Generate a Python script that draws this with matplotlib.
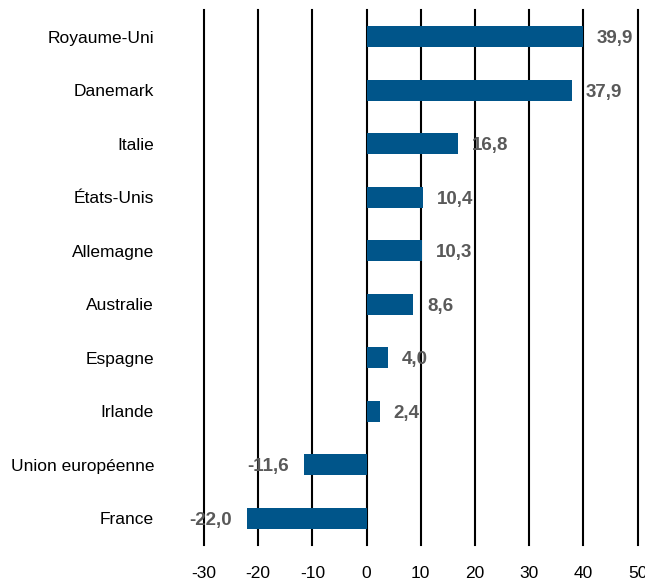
import matplotlib
matplotlib.use('Agg')
import matplotlib.pyplot as plt

plt.rcParams['font.family'] = ['Liberation Sans Narrow', 'Liberation Sans', 'DejaVu Sans']

countries = ['Royaume-Uni', 'Danemark', 'Italie', 'États-Unis', 'Allemagne',
             'Australie', 'Espagne', 'Irlande', 'Union européenne', 'France']
values = [39.9, 37.9, 16.8, 10.4, 10.3, 8.6, 4.0, 2.4, -11.6, -22.0]
xticks = [-30, -20, -10, 0, 10, 20, 30, 40, 50]

bar_color = '#00558A'
label_color = '#595959'

fig = plt.figure(figsize=(6.45, 5.8), dpi=100)
ax = fig.add_axes([0.3163, 0.0603, 0.9885 - 0.3163, 0.9828 - 0.0603])

ypos = list(range(len(countries)))
ax.barh(ypos, values, height=0.4, color=bar_color, zorder=3)

for y, v in zip(ypos, values):
    txt = f'{v:.1f}'.replace('.', ',')
    if v >= 0:
        ax.annotate(txt, (v, y), xytext=(10, -1.5), textcoords='offset points',
                    ha='left', va='center', fontsize=13.5, fontweight='bold',
                    color=label_color, zorder=4)
    else:
        ax.annotate(txt, (v, y), xytext=(-11, -1.5), textcoords='offset points',
                    ha='right', va='center', fontsize=13.5, fontweight='bold',
                    color=label_color, zorder=4)

ax.set_xlim(-30, 50)
ax.set_ylim(len(countries) - 0.5, -0.5)
ax.set_xticks(xticks)
ax.set_xticklabels([str(t) for t in xticks])
ax.set_yticks(ypos)
ax.set_yticklabels(countries)

ax.tick_params(axis='y', length=0, pad=36, labelsize=12.5)
ax.tick_params(axis='x', length=0, pad=15, labelsize=12.5)
for s in ax.spines.values():
    s.set_visible(False)

ax.grid(axis='x', color='black', linewidth=1.5, zorder=1)
for gl in ax.get_xgridlines():
    gl.set_clip_on(False)
ax.set_axisbelow(True)

fig.savefig('out.png', dpi=100)
